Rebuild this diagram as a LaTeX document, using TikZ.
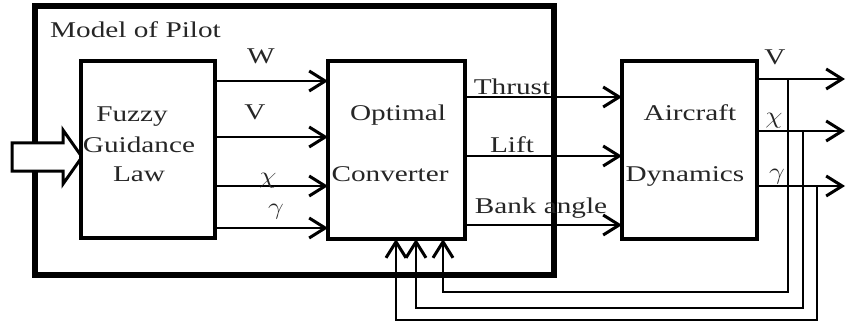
\documentclass[tikz,border=0pt]{standalone}
\usepackage{fontspec}
\setmainfont[FakeStretch=1.3]{Liberation Serif}
\usetikzlibrary{arrows.meta}
\newcommand{\gchi}{\scalebox{1.35}[1.15]{$\chi$}}
\newcommand{\ggam}{\scalebox{1.35}[1.15]{$\gamma$}}
\begin{document}
\begin{tikzpicture}[x=1pt,y=-1pt,
  box/.style={draw, line width=3.2pt, inner sep=0pt, outer sep=0pt},
  arr/.style={line width=2.3pt, -{Straight Barb[length=16pt,width=20pt,line width=3pt]}},
  thinarr/.style={line width=1.8pt, -{Straight Barb[length=16pt,width=20pt,line width=3pt]}},
  lbl/.style={inner sep=0pt, font=\fontsize{22.5}{26}\selectfont, text=black!85}]
\useasboundingbox (0,0) rectangle (846,326);
% outer pilot box
\node[draw, line width=6pt, inner sep=0pt, outer sep=0pt,
      minimum width=519pt, minimum height=269pt] (pilot) at (294.5,140.5) {};
\node[lbl, anchor=base west] (pilotlbl) at (50,38) {Model of Pilot};
% hollow input arrow
\draw[line width=3pt, fill=white, line join=miter]
  (12,143) -- (63,143) -- (63,130) -- (82,157) -- (63,184) -- (63,171) -- (12,171) -- cycle;
% blocks
\node[box, fill=white, minimum width=134pt, minimum height=177pt] (fz) at (148,149.5) {};
\node[box, minimum width=137pt, minimum height=178pt] (opt) at (396.5,150) {};
\node[box, minimum width=135pt, minimum height=178pt] (ac) at (689.5,150) {};
% block texts
\node[lbl, anchor=base] (t1) at (132,122) {Fuzzy};
\node[lbl, anchor=base] (t2) at (139,153) {Guidance};
\node[lbl, anchor=base] (t3) at (139,182) {Law};
\node[lbl, anchor=base] (t4) at (398,121) {Optimal};
\node[lbl, anchor=base] (t5) at (390,181) {Converter};
\node[lbl, anchor=base] (t6) at (690,121) {Aircraft};
\node[lbl, anchor=base] (t7) at (685,181) {Dynamics};
% fuzzy -> optimal
\coordinate (yW) at (0,81);
\coordinate (yV) at (0,137);
\coordinate (yX) at (0,186);
\coordinate (yG) at (0,228);
\draw[arr] (fz.east |- yW) -- (opt.west |- yW);
\draw[arr] (fz.east |- yV) -- (opt.west |- yV);
\draw[arr] (fz.east |- yX) -- (opt.west |- yX);
\draw[arr] (fz.east |- yG) -- (opt.west |- yG);
\node[lbl, anchor=base] (lW) at (261,64) {W};
\node[lbl, anchor=base] (lV) at (255,120) {V};
\node[lbl] (lX) at (268,181) {\gchi};
\node[lbl] (lG) at (276,212) {\ggam};
% optimal -> aircraft
\coordinate (yT) at (0,97);
\coordinate (yL) at (0,156);
\coordinate (yB) at (0,225);
\draw[thinarr] (opt.east |- yT) -- (ac.west |- yT);
\draw[arr] (opt.east |- yL) -- (ac.west |- yL);
\draw[arr] (opt.east |- yB) -- (ac.west |- yB);
\node[lbl, anchor=base] (lT) at (512,95) {Thrust};
\node[lbl, anchor=base] (lL) at (512,153) {Lift};
\node[lbl, anchor=base] (lB) at (541,213) {Bank angle};
% outputs
\coordinate (oV) at (845,79);
\coordinate (oX) at (845,131);
\coordinate (oG) at (845,186);
\draw[arr] (ac.east |- oV) -- (oV);
\draw[arr] (ac.east |- oX) -- (oX);
\draw[thinarr] (ac.east |- oG) -- (oG);
\node[lbl, anchor=base] (loV) at (775,65) {V};
\node[lbl] (loX) at (774,121) {\gchi};
\node[lbl] (loG) at (777,177) {\ggam};
% feedback
\coordinate (jV) at (788,79);
\coordinate (jX) at (803,131);
\coordinate (jG) at (817,186);
\coordinate (bV) at (443,292);
\coordinate (bX) at (416,308);
\coordinate (bG) at (396,320);
\draw[arr] (jV) |- (bV) -- (bV |- opt.south);
\draw[arr] (jX) |- (bX) -- (bX |- opt.south);
\draw[thinarr] (jG) |- (bG) -- (bG |- opt.south);
\end{tikzpicture}
\end{document}
